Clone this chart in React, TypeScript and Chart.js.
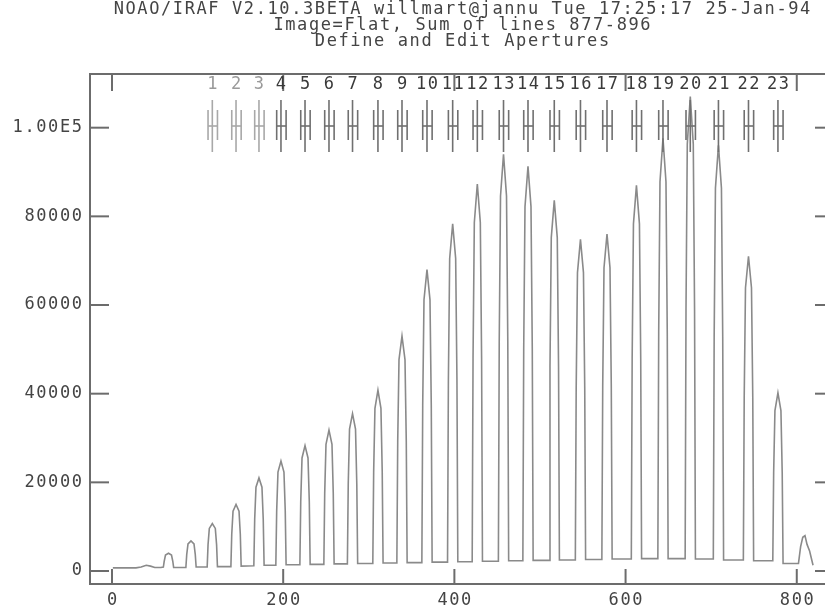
import { useEffect, useRef } from 'react';
import { Chart, registerables } from 'chart.js';

Chart.register(...registerables);

// Header printed above the plot
const titleLines = [
  'NOAO/IRAF V2.10.3BETA willmart@jannu Tue 17:25:17 25-Jan-94',
  'Image=Flat, Sum of lines 877-896',
  'Define and Edit Apertures',
];

// Axis ticks
const xTicks = [0, 200, 400, 600, 800];
const xTickLabels = ['0', '200', '400', '600', '800'];
const yTicks = [0, 20000, 40000, 60000, 80000, 100000];
const yTickLabels = ['0', '20000', '40000', '60000', '80000', '1.00E5'];

// Summed cross-dispersion profile (column, counts)
const profileX = [
  1, 28, 34, 40, 45, 50, 57,
  60, 61, 62.5, 66, 69.5, 71, 72,
  86.3, 87.3, 88.8, 92.3, 95.8, 97.3, 98.3,
  111.2, 112.2, 113.7, 117.2, 120.7, 122.2, 123.2,
  138.9, 139.9, 141.4, 144.9, 148.4, 149.9, 150.9,
  165.7, 166.7, 168.2, 171.7, 175.2, 176.7, 177.7,
  191.4, 192.4, 193.9, 197.4, 200.9, 202.4, 203.4,
  219.5, 220.5, 222, 225.5, 229, 230.5, 231.5,
  247.5, 248.5, 250, 253.5, 257, 258.5, 259.5,
  275, 276, 277.5, 281, 284.5, 286, 287,
  304.7, 305.7, 307.2, 310.7, 314.2, 315.7, 316.7,
  332.8, 333.8, 335.3, 338.8, 342.3, 343.8, 344.8,
  362, 363, 364.5, 368, 371.5, 373, 374,
  392, 393, 394.5, 398, 401.5, 403, 404,
  420.8, 421.8, 423.3, 426.8, 430.3, 431.8, 432.8,
  451.4, 452.4, 453.9, 457.4, 460.9, 462.4, 463.4,
  480, 481, 482.5, 486, 489.5, 491, 492,
  510.7, 511.7, 513.2, 516.7, 520.2, 521.7, 522.7,
  541.3, 542.3, 543.8, 547.3, 550.8, 552.3, 553.3,
  572.3, 573.3, 574.8, 578.3, 581.8, 583.3, 584.3,
  606.7, 607.7, 609.2, 612.7, 616.2, 617.7, 618.7,
  637.7, 638.7, 640.2, 643.7, 647.2, 648.7, 649.7,
  669.6, 670.6, 672.1, 675.6, 679.1, 680.6, 681.6,
  702.5, 703.5, 705, 708.5, 712, 713.5, 714.5,
  737.6, 738.6, 740.1, 743.6, 747.1, 748.6, 749.6,
  772, 773, 774.5, 778, 781.5, 783, 784,
  802, 804.5, 807, 809.6, 812, 815, 819,
];
const profileY = [
  700, 700, 900, 1300, 1100, 800, 800,
  900, 2200, 3600, 4000, 3600, 2200, 800,
  800, 3700, 6100, 6800, 6100, 3700, 900,
  900, 5900, 9600, 10700, 9600, 5900, 1000,
  1000, 8300, 13500, 15000, 13500, 8300, 1100,
  1200, 11600, 18900, 21000, 18900, 11600, 1300,
  1300, 13600, 22300, 24800, 22300, 13600, 1400,
  1400, 15600, 25500, 28300, 25500, 15600, 1500,
  1500, 17500, 28600, 31800, 28600, 17500, 1600,
  1600, 19500, 32000, 35500, 32000, 19500, 1700,
  1700, 22400, 36700, 40800, 36700, 22400, 1800,
  1800, 29200, 47700, 53000, 47700, 29200, 1900,
  1900, 37400, 61200, 68000, 61200, 37400, 2000,
  2000, 43100, 70500, 78300, 70500, 43100, 2100,
  2100, 48000, 78600, 87300, 78600, 48000, 2200,
  2200, 51700, 84600, 94000, 84600, 51700, 2300,
  2300, 50200, 82200, 91300, 82200, 50200, 2400,
  2400, 46000, 75200, 83600, 75200, 46000, 2500,
  2500, 41100, 67300, 74800, 67300, 41100, 2600,
  2600, 41800, 68400, 76000, 68400, 41800, 2700,
  2700, 47900, 78300, 87000, 78300, 47900, 2800,
  2800, 53700, 87800, 97600, 87800, 53700, 2800,
  2800, 58900, 96300, 107000, 96300, 58900, 2700,
  2700, 52800, 86400, 96000, 86400, 52800, 2500,
  2500, 39100, 63900, 71000, 63900, 39100, 2300,
  2300, 22100, 36200, 40200, 36200, 22100, 1700,
  1700, 5500, 7600, 8000, 6000, 4500, 1300,
];

// Defined apertures: id, centre column, lower and upper limits
const apertureIds = [
  1, 2, 3, 4, 5, 6, 7, 8, 9, 10, 11, 12, 13, 14, 15, 16, 17, 18, 19, 20, 21, 22, 23,
];
const apertureCenters = [
  117.2, 144.9, 171.7, 197.4, 225.5, 253.5, 281, 310.7, 338.8, 368, 398, 426.8,
  457.4, 486, 516.7, 547.3, 578.3, 612.7, 643.7, 675.6, 708.5, 743.6, 778,
];
const apertureLower = -5;
const apertureUpper = 6;

const FONT = '17px "DejaVu Sans Mono"';
const SPACING = 1.6;

const irafDecor = {
  id: 'irafDecor',
  afterDraw(chart: any) {
    const { ctx, chartArea: a, scales } = chart;
    const xs = scales.x;
    const ys = scales.y;
    const seg = (x1: number, y1: number, x2: number, y2: number) => {
      ctx.beginPath();
      ctx.moveTo(x1, y1);
      ctx.lineTo(x2, y2);
      ctx.stroke();
    };
    ctx.save();

    // plot frame
    ctx.strokeStyle = '#6c6c6c';
    ctx.lineWidth = 2;
    ctx.strokeRect(a.left, a.top, a.right - a.left, a.bottom - a.top);

    // inward ticks on all four sides
    xTicks.forEach((v) => {
      const px = xs.getPixelForValue(v);
      seg(px, a.bottom, px, a.bottom - 15);
      seg(px, a.top, px, a.top + 17);
    });
    yTicks.forEach((v) => {
      const py = ys.getPixelForValue(v);
      seg(a.left, py, a.left + 19, py);
      seg(a.right, py, a.right - 19, py);
    });

    ctx.font = FONT;
    (ctx as any).letterSpacing = `${SPACING}px`;
    ctx.fillStyle = '#444';

    // tick labels
    ctx.textBaseline = 'middle';
    ctx.textAlign = 'center';
    xTicks.forEach((v, i) => {
      ctx.fillText(xTickLabels[i], xs.getPixelForValue(v) + SPACING / 2, a.bottom + 17);
    });
    ctx.textAlign = 'right';
    yTicks.forEach((v, i) => {
      ctx.fillText(yTickLabels[i], a.left - 8 + SPACING, ys.getPixelForValue(v));
    });

    // header
    ctx.textAlign = 'center';
    const cx = (a.left + a.right) / 2 + SPACING / 2;
    titleLines.forEach((t, i) => ctx.fillText(t, cx, 10 + i * 16));

    // aperture markers with their numbers
    const yLabel = a.top + 10.5;
    const yTop = a.top + 26;
    const yBot = a.top + 78;
    const ySideTop = a.top + 36;
    const ySideBot = a.top + 66;
    const yBar = a.top + 52;
    ctx.lineWidth = 1.6;
    apertureIds.forEach((id, i) => {
      const c = apertureCenters[i];
      const px = xs.getPixelForValue(c);
      const lo = xs.getPixelForValue(c + apertureLower);
      const hi = xs.getPixelForValue(c + apertureUpper);
      const faint = id <= 3;
      ctx.strokeStyle = faint ? '#a8a8a8' : '#707070';
      seg(px, yTop, px, yBot);
      seg(lo, ySideTop, lo, ySideBot);
      seg(hi, ySideTop, hi, ySideBot);
      seg(lo, yBar, hi, yBar);
      ctx.fillStyle = faint ? '#9a9a9a' : '#3a3a3a';
      ctx.fillText(String(id), px + SPACING / 2, yLabel);
    });

    ctx.restore();
  },
};

export default function App() {
  const canvasRef = useRef<HTMLCanvasElement | null>(null);

  useEffect(() => {
    if (!canvasRef.current) return;
    const chart = new Chart(canvasRef.current, {
      type: 'line',
      data: {
        datasets: [
          {
            data: profileX.map((x, i) => ({ x, y: profileY[i] })),
            borderColor: '#8a8a8a',
            borderWidth: 1.6,
            pointRadius: 0,
            tension: 0,
            fill: false,
          },
        ],
      },
      options: {
        responsive: false,
        animation: false,
        events: [],
        layout: { padding: { left: 90, top: 74, right: 11, bottom: 30 } },
        scales: {
          x: { type: 'linear', min: -25.7, max: 843.5, display: false },
          y: { type: 'linear', min: -2930, max: 112110, display: false },
        },
        plugins: {
          legend: { display: false },
          tooltip: { enabled: false },
          title: { display: false },
        },
      },
      plugins: [irafDecor],
    });
    return () => chart.destroy();
  }, []);

  return (
    <div
      style={{
        position: 'absolute',
        left: 0,
        top: 0,
        width: 825,
        height: 614,
        overflow: 'hidden',
        background: '#fff',
      }}
    >
      <canvas ref={canvasRef} width={845} height={614} style={{ display: 'block' }} />
    </div>
  );
}
